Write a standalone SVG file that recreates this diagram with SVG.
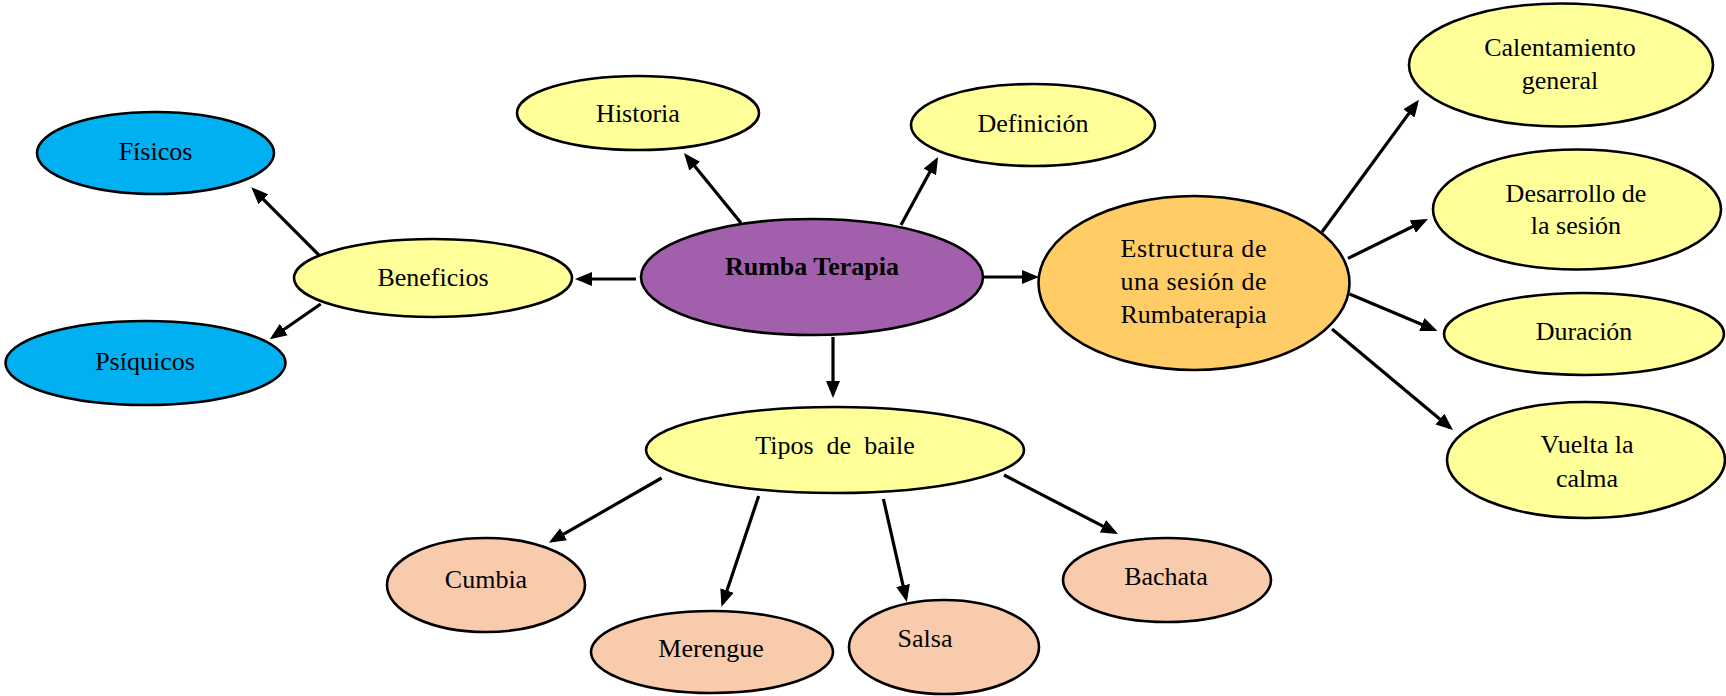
<svg xmlns="http://www.w3.org/2000/svg" width="1726" height="696" viewBox="0 0 1726 696">
  <defs>
    <style>
      .node ellipse { stroke: #000; stroke-width: 2.6; }
      .yellow { fill: #FFFF99; }
      .blue { fill: #00B0F0; }
      .purple { fill: #A260AC; }
      .orange { fill: #FFCC66; }
      .peach { fill: #F8CBAD; }
      text { font-family: "Liberation Serif", "Times New Roman", serif; font-size: 26px; fill: #000; }
      .c { text-anchor: middle; }
      .b { font-weight: bold; }
      #connectors line { stroke: #000; stroke-width: 3.2; marker-end: url(#arrow); }
    </style>
    <marker id="arrow" viewBox="0 0 17 14" refX="13" refY="7" markerWidth="17" markerHeight="14" markerUnits="userSpaceOnUse" orient="auto">
      <path d="M0,0 L17,7 L0,14 z" fill="#000"/>
    </marker>
  </defs>
  <rect width="1726" height="696" fill="#fff"/>

  <g id="connectors">
    <line x1="741" y1="223" x2="686.5" y2="156.1"/>
    <line x1="901" y1="225" x2="936.1" y2="160.5"/>
    <line x1="636" y1="279" x2="579" y2="279"/>
    <line x1="984" y1="277" x2="1035" y2="277"/>
    <line x1="833" y1="337" x2="833" y2="394"/>
    <line x1="319.5" y1="255.7" x2="254.2" y2="190.1"/>
    <line x1="320.7" y1="304" x2="273.1" y2="337"/>
    <line x1="1322" y1="232" x2="1416.6" y2="102.9"/>
    <line x1="1348" y1="258.4" x2="1424.4" y2="220.8"/>
    <line x1="1349.5" y1="294" x2="1433.8" y2="329.5"/>
    <line x1="1332" y1="329" x2="1449.9" y2="427.4"/>
    <line x1="661.6" y1="478" x2="552.3" y2="540.7"/>
    <line x1="758.7" y1="496" x2="722.8" y2="602.9"/>
    <line x1="883.4" y1="499" x2="905.9" y2="598.1"/>
    <line x1="1004" y1="475" x2="1114.4" y2="532.2"/>
  </g>

  <g id="fisicos" class="node">
    <ellipse class="blue" cx="155.5" cy="153" rx="118.5" ry="41"/>
    <text class="c" x="155.5" y="160">Físicos</text>
  </g>
  <g id="psiquicos" class="node">
    <ellipse class="blue" cx="145.5" cy="363" rx="140" ry="42"/>
    <text class="c" x="145" y="370">Psíquicos</text>
  </g>
  <g id="beneficios" class="node">
    <ellipse class="yellow" cx="433" cy="278" rx="139" ry="39"/>
    <text class="c" x="433" y="286">Beneficios</text>
  </g>
  <g id="historia" class="node">
    <ellipse class="yellow" cx="638" cy="113" rx="121" ry="37"/>
    <text class="c" x="638" y="121.5">Historia</text>
  </g>
  <g id="definicion" class="node">
    <ellipse class="yellow" cx="1033" cy="125" rx="122" ry="41"/>
    <text class="c" x="1033" y="131.5">Definición</text>
  </g>
  <g id="rumba-terapia" class="node">
    <ellipse class="purple" cx="812" cy="277" rx="171" ry="58"/>
    <text class="c b" x="812" y="274.5">Rumba Terapia</text>
  </g>
  <g id="estructura" class="node">
    <ellipse class="orange" cx="1194" cy="283" rx="155.5" ry="87"/>
    <text x="1120.5" y="257" textLength="146" lengthAdjust="spacing">Estructura de</text>
    <text x="1120.5" y="290" textLength="146" lengthAdjust="spacing">una sesión de</text>
    <text x="1120.5" y="323" textLength="146" lengthAdjust="spacing">Rumbaterapia</text>
  </g>
  <g id="calentamiento" class="node">
    <ellipse class="yellow" cx="1561" cy="65" rx="152" ry="61.5"/>
    <text class="c" x="1560" y="56">Calentamiento</text>
    <text class="c" x="1560" y="88.5">general</text>
  </g>
  <g id="desarrollo" class="node">
    <ellipse class="yellow" cx="1577" cy="209.5" rx="144" ry="60"/>
    <text class="c" x="1576" y="202">Desarrollo de</text>
    <text class="c" x="1576" y="234">la sesión</text>
  </g>
  <g id="duracion" class="node">
    <ellipse class="yellow" cx="1584" cy="334" rx="140" ry="41"/>
    <text class="c" x="1584" y="340">Duración</text>
  </g>
  <g id="vuelta-calma" class="node">
    <ellipse class="yellow" cx="1586" cy="460" rx="139" ry="58"/>
    <text class="c" x="1587" y="453">Vuelta la</text>
    <text class="c" x="1587" y="487">calma</text>
  </g>
  <g id="tipos-baile" class="node">
    <ellipse class="yellow" cx="835" cy="450" rx="189" ry="43"/>
    <text class="c" x="835" y="454" xml:space="preserve">Tipos  de  baile</text>
  </g>
  <g id="cumbia" class="node">
    <ellipse class="peach" cx="486" cy="585" rx="99" ry="47"/>
    <text class="c" x="486" y="588">Cumbia</text>
  </g>
  <g id="merengue" class="node">
    <ellipse class="peach" cx="712" cy="652" rx="121" ry="41"/>
    <text class="c" x="711" y="657">Merengue</text>
  </g>
  <g id="salsa" class="node">
    <ellipse class="peach" cx="944" cy="647" rx="95" ry="47"/>
    <text class="c" x="925" y="647">Salsa</text>
  </g>
  <g id="bachata" class="node">
    <ellipse class="peach" cx="1167" cy="580" rx="104" ry="42"/>
    <text class="c" x="1166" y="585">Bachata</text>
  </g>
</svg>
